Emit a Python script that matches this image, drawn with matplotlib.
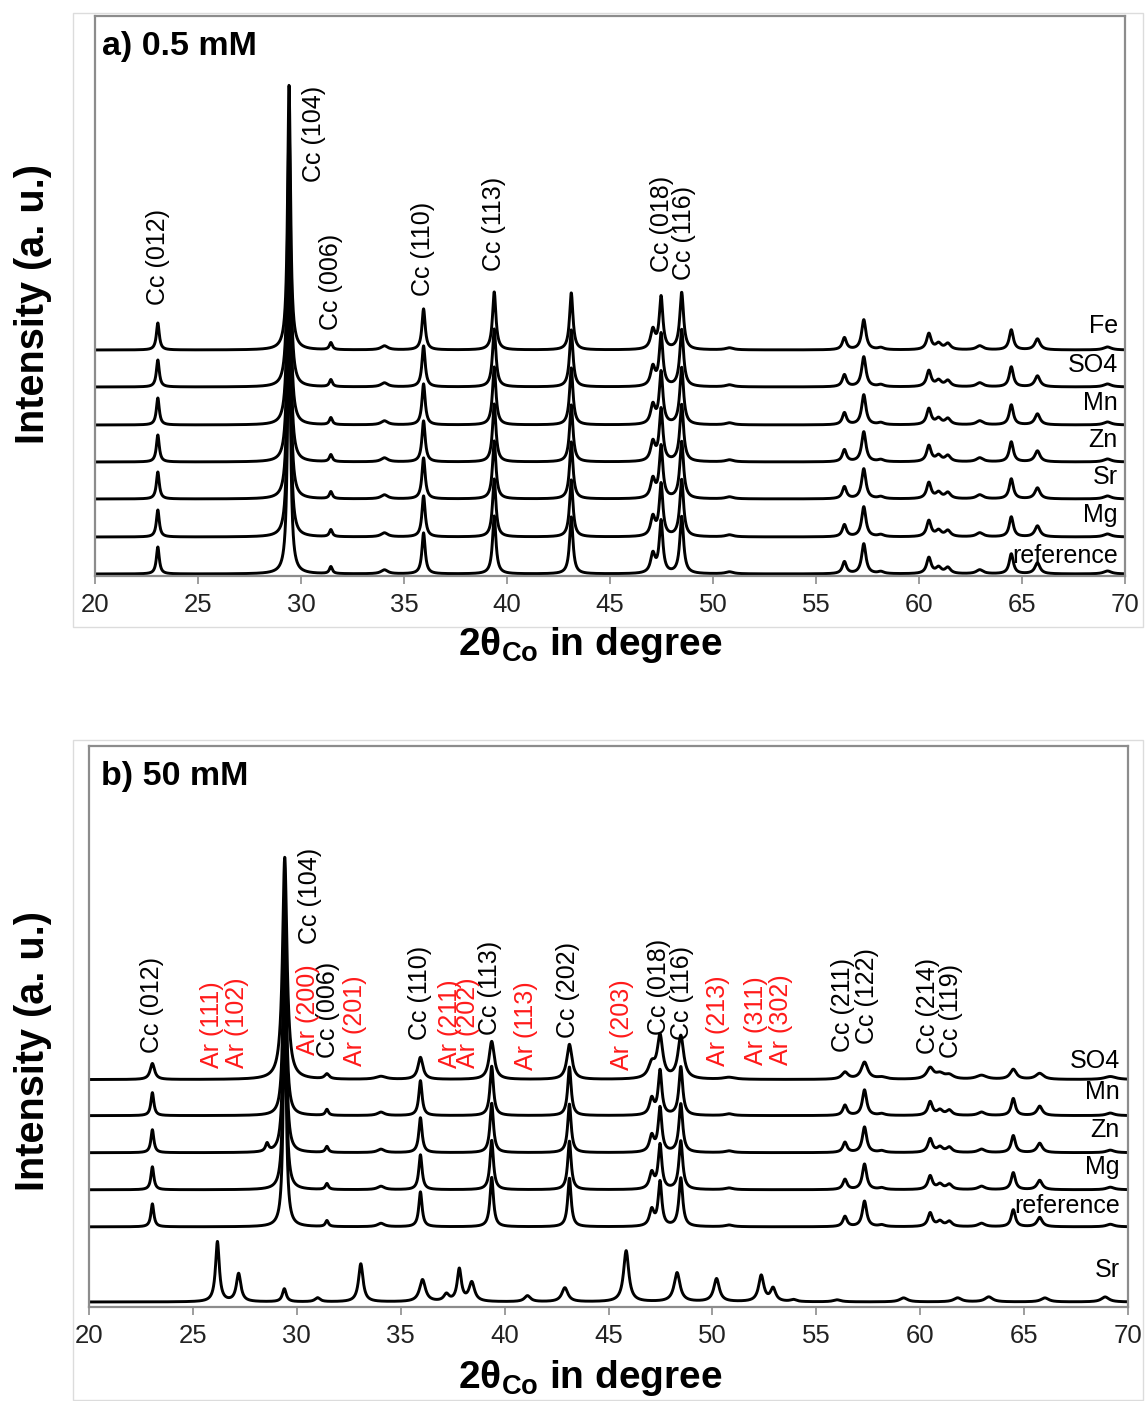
import numpy as np
import matplotlib
matplotlib.use("Agg")
import matplotlib.pyplot as plt
from matplotlib.patches import Rectangle

plt.rcParams["font.family"] = ["Liberation Sans", "DejaVu Sans"]
plt.rcParams["mathtext.fontset"] = "custom"
plt.rcParams["mathtext.rm"] = "Liberation Sans"
plt.rcParams["mathtext.bf"] = "Liberation Sans:bold"

# calcite reflections (2theta Co), FWHM and intensities at 0.5 mM
CC_POS = [23.05, 29.42, 31.45, 34.05, 35.95, 39.38, 43.12, 47.08, 47.48, 48.48, 50.8,
          56.38, 57.32, 58.15, 60.48, 60.95, 61.4, 62.95, 64.48, 65.75, 69.15]
CC_FWHM = [0.17, 0.17, 0.17, 0.4, 0.19, 0.2, 0.2, 0.26, 0.21, 0.22, 0.45,
           0.24, 0.25, 0.35, 0.26, 0.32, 0.32, 0.4, 0.24, 0.3, 0.45]
CC_HEIGHT_A = [27, 265, 7, 4, 41, 58, 57, 19, 52, 57, 2,
               12, 30, 2, 16, 6, 6, 4, 20, 11, 3]

SAMPLES_A = ["Fe", "SO4", "Mn", "Zn", "Sr", "Mg", "reference"]
OFFSET_A = [226, 189, 151, 114, 77, 39, 2]
LIFT_A = [17, 15, 15, 15, 15, 15, 11]

# 50 mM: SO4 is broader and weaker, the rest keep the calcite pattern
SO4_HEIGHT_B = [16, 222, 5, 3, 22, 38, 35, 14, 42, 43, 2,
                7, 17, 2, 11, 5, 4, 4, 10, 6, 3]
SO4_BROADENING = 1.5
CC_SCALE_B = 0.85
ZN_EXTRA_POS, ZN_EXTRA_HEIGHT = 28.57, 8

# aragonite (Sr, 50 mM)
AR_POS = [26.18, 27.2, 29.4, 31.0, 33.08, 36.05, 37.2, 37.82, 38.42, 41.1, 42.9,
          45.85, 48.3, 50.2, 52.35, 52.92, 53.9, 56.0, 59.2, 61.8, 63.3, 66.0, 68.9]
AR_FWHM = [0.22, 0.26, 0.22, 0.3, 0.26, 0.34, 0.3, 0.24, 0.32, 0.35, 0.35,
           0.3, 0.34, 0.32, 0.3, 0.3, 0.35, 0.45, 0.45, 0.45, 0.45, 0.45, 0.45]
AR_HEIGHT = [60, 28, 13, 4, 38, 22, 7, 32, 19, 6, 14,
             51, 29, 23, 26, 13, 2, 2, 4, 4, 5, 4, 5]

SAMPLES_B = ["SO4", "Mn", "Zn", "Mg", "reference", "Sr"]
OFFSET_B = [227, 191, 154, 117, 80, 5]
LIFT_B = [12, 17, 16, 16, 14, 25]

CC_LABELS_A = [("Cc (012)", 23.05, 271), ("Cc (104)", 30.63, 394), ("Cc (006)", 31.46, 246),
               ("Cc (110)", 35.9, 280), ("Cc (113)", 39.37, 305), ("Cc (018)", 47.52, 304),
               ("Cc (116)", 48.59, 296)]
CC_LABELS_B = [("Cc (012)", 23.05, 254), ("Cc (104)", 30.64, 362), ("Cc (006)", 31.5, 249),
               ("Cc (110)", 35.93, 267), ("Cc (113)", 39.3, 272), ("Cc (202)", 43.05, 269),
               ("Cc (018)", 47.43, 272), ("Cc (116)", 48.54, 267), ("Cc (211)", 56.3, 255),
               ("Cc (122)", 57.44, 263), ("Cc (214)", 60.38, 253), ("Cc (119)", 61.5, 249)]
AR_LABELS_B = [("Ar (111)", 25.9, 239), ("Ar (102)", 27.12, 239), ("Ar (200)", 30.55, 252),
               ("Ar (201)", 32.78, 241), ("Ar (211)", 37.37, 239), ("Ar (202)", 38.25, 239),
               ("Ar (113)", 41.05, 237), ("Ar (203)", 45.65, 237), ("Ar (213)", 50.27, 241),
               ("Ar (311)", 52.12, 242), ("Ar (302)", 53.3, 242)]

TICKS = [20, 25, 30, 35, 40, 45, 50, 55, 60, 65, 70]

x = np.linspace(20, 70, 6001)


def profile(pos, fwhm, height, broad=1.0):
    y = np.zeros_like(x)
    for p, w, h in zip(pos, fwhm, height):
        hw = w * broad / 2
        y += h / (1 + ((x - p) / hw) ** 2)
    return y


def style_axes(ax):
    ax.set_xlim(20, 70)
    ax.set_ylim(0, 560)
    ax.set_yticks([])
    ax.set_xticks(TICKS)
    ax.tick_params(axis="x", direction="out", length=6, width=1.2, color="#8c8c8c",
                   labelsize=18.5, pad=6, labelcolor="#222222")
    for s in ax.spines.values():
        s.set_color("#8c8c8c")
        s.set_linewidth(1.6)


W, H = 1146, 1401
fig = plt.figure(figsize=(W / 100, H / 100), dpi=100)

# light panel frames
for top, bot in [(13, 627), (740, 1400)]:
    fig.patches.append(Rectangle((73 / W, 1 - bot / H), (1143 - 73) / W, (bot - top) / H,
                                 transform=fig.transFigure, fill=False,
                                 edgecolor="#dcdcdc", lw=1.0))

ax_a = fig.add_axes([95 / W, 1 - 576 / H, (1125 - 95) / W, 560 / H])
ax_b = fig.add_axes([89 / W, 1 - 1307 / H, (1128 - 89) / W, 561 / H])

LABEL_FS = 18

# panel a
cc_a = profile(CC_POS, CC_FWHM, CC_HEIGHT_A)
for name, off, lift in zip(SAMPLES_A, OFFSET_A, LIFT_A):
    ax_a.plot(x, cc_a + off, color="black", lw=2.1)
    ax_a.text(69.65, off + lift, name, ha="right", va="baseline", fontsize=LABEL_FS)
for lab, px, py in CC_LABELS_A:
    ax_a.text(px, py, lab, rotation=90, ha="center", va="bottom", fontsize=LABEL_FS)
ax_a.text(0.007, 0.945, "a) 0.5 mM", transform=ax_a.transAxes, fontsize=24.5,
          fontweight="bold", ha="left", va="center")
style_axes(ax_a)

# panel b
cc_b = profile(CC_POS, CC_FWHM, [h * CC_SCALE_B for h in CC_HEIGHT_A])
curves_b = {
    "SO4": profile(CC_POS, CC_FWHM, SO4_HEIGHT_B, SO4_BROADENING),
    "Mn": cc_b,
    "Zn": cc_b + profile([ZN_EXTRA_POS], [0.18], [ZN_EXTRA_HEIGHT]),
    "Mg": cc_b,
    "reference": cc_b,
    "Sr": profile(AR_POS, AR_FWHM, AR_HEIGHT),
}
for name, off, lift in zip(SAMPLES_B, OFFSET_B, LIFT_B):
    ax_b.plot(x, curves_b[name] + off, color="black", lw=2.1)
    ax_b.text(69.6, off + lift, name, ha="right", va="baseline", fontsize=LABEL_FS)
for lab, px, py in CC_LABELS_B:
    ax_b.text(px, py, lab, rotation=90, ha="center", va="bottom", fontsize=LABEL_FS)
for lab, px, py in AR_LABELS_B:
    ax_b.text(px, py, lab, rotation=90, ha="center", va="bottom", fontsize=LABEL_FS,
              color="#ff1a1a")
ax_b.text(0.012, 0.945, "b) 50 mM", transform=ax_b.transAxes, fontsize=24.5,
          fontweight="bold", ha="left", va="center")
style_axes(ax_b)

# shared axis titles placed in figure space
for yc, xl in [(304, 645), (1051, 1378)]:
    fig.text(33 / W, 1 - yc / H, "Intensity (a. u.)", rotation=90, ha="center",
             va="center", fontsize=28.5, fontweight="bold")
    fig.text(590 / W, 1 - xl / H, r"2θ$_{\mathbf{Co}}$ in degree", ha="center",
             va="center", fontsize=28, fontweight="bold")

fig.savefig("out.png", dpi=100)
